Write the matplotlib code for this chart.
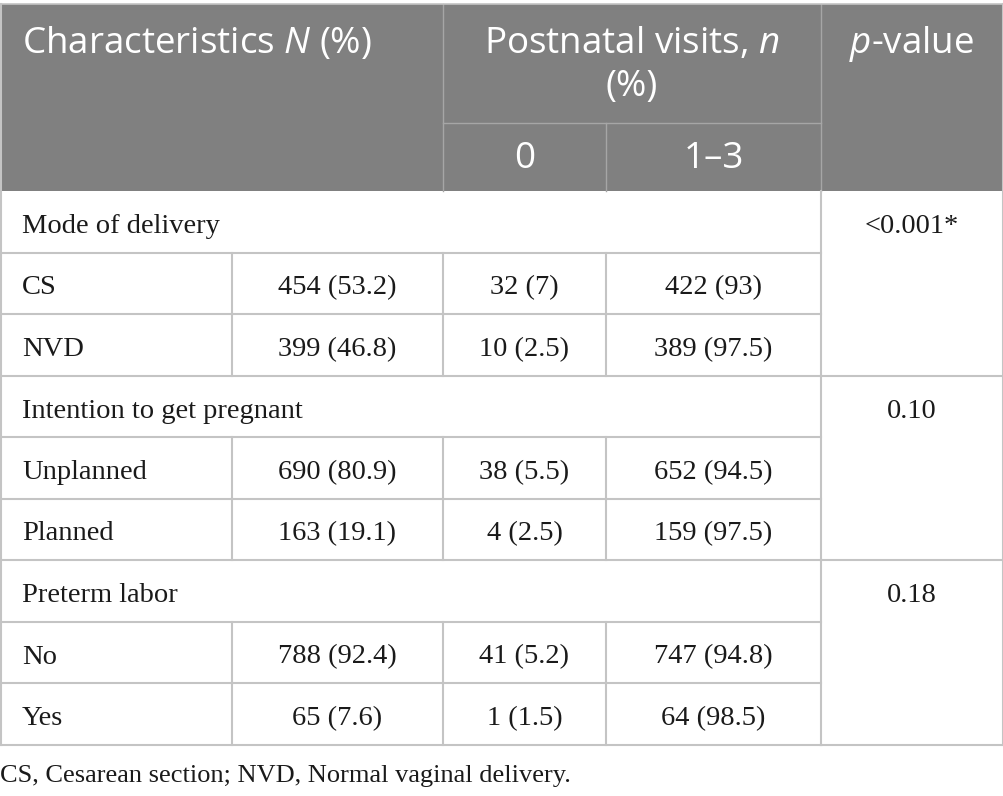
import matplotlib.pyplot as plt
from matplotlib.patches import Rectangle

# table contents
groups = ['Mode of delivery', 'Intention to get pregnant', 'Preterm labor']
p_values = ['<0.001*', '0.10', '0.18']
categories = [['CS', 'NVD'], ['Unplanned', 'Planned'], ['No', 'Yes']]
n_total = [[454, 399], [690, 163], [788, 65]]
pct_total = [[53.2, 46.8], [80.9, 19.1], [92.4, 7.6]]
n_zero = [[32, 10], [38, 4], [41, 1]]
pct_zero = [['7', '2.5'], ['5.5', '2.5'], ['5.2', '1.5']]
n_visits = [[422, 389], [652, 159], [747, 64]]
pct_visits = [['93', '97.5'], ['94.5', '97.5'], ['94.8', '98.5']]
footnote = 'CS, Cesarean section; NVD, Normal vaginal delivery.'

plt.rcParams['mathtext.fontset'] = 'custom'
plt.rcParams['mathtext.it'] = 'Open Sans:italic'
plt.rcParams['mathtext.rm'] = 'Open Sans'

W, H = 1004, 796
HEAD_BG = '#808080'
GRID = '#c4c4c4'
HEAD_GRID = '#a6a6a6'
SANS = ['Open Sans', 'DejaVu Sans']
SERIF = ['Liberation Serif', 'DejaVu Serif']

cols = [1, 232, 443, 606, 821, 1003]
top, head_mid, head_bot = 4, 123, 191
row_h = 61.5

fig = plt.figure(figsize=(W / 100, H / 100), dpi=100)
ax = fig.add_axes([0, 0, 1, 1])
ax.set_xlim(0, W)
ax.set_ylim(H, 0)
ax.axis('off')

# header block
ax.add_patch(Rectangle((cols[0], top), cols[-1] - cols[0], head_bot - top,
                       facecolor=HEAD_BG, edgecolor='none'))
ax.plot([cols[2], cols[2]], [top, head_bot], color=HEAD_GRID, lw=1)
ax.plot([cols[4], cols[4]], [top, head_bot], color=HEAD_GRID, lw=1)
ax.plot([cols[3], cols[3]], [head_mid, head_bot], color=HEAD_GRID, lw=1)
ax.plot([cols[2], cols[4]], [head_mid, head_mid], color=HEAD_GRID, lw=1)
ax.plot([cols[0], cols[-1]], [top, top], color=GRID, lw=1.2)

hs = 26.5
hkw = dict(fontsize=hs, color='white', family=SANS, va='baseline')
ax.text(22, 53, 'Characteristics $\\mathit{N}$ (%)', ha='left', **hkw)
ax.text((cols[2] + cols[4]) / 2, 53, 'Postnatal visits, $\\mathit{n}$', ha='center', **hkw)
ax.text((cols[2] + cols[4]) / 2, 96, '(%)', ha='center', **hkw)
ax.text((cols[2] + cols[3]) / 2, 168, '0', ha='center', **hkw)
ax.text((cols[3] + cols[4]) / 2, 168, '1–3', ha='center', **hkw)
ax.text((cols[4] + cols[5]) / 2, 53, '$\\mathit{p}$-value', ha='center', **hkw)

bs = 20.5
bkw = dict(fontsize=bs, family=SERIF, va='baseline', color='#1a1a1a')
base = 42
y = head_bot
for g, grp in enumerate(groups):
    ax.text(22, y + base, grp, ha='left', **bkw)
    ax.text((cols[4] + cols[5]) / 2, y + base, p_values[g], ha='center', **bkw)
    y += row_h
    ax.plot([cols[0], cols[4]], [y, y], color=GRID, lw=1.5)
    for i, cat in enumerate(categories[g]):
        cells = [f'{n_total[g][i]} ({pct_total[g][i]:.1f})',
                 f'{n_zero[g][i]} ({pct_zero[g][i]})',
                 f'{n_visits[g][i]} ({pct_visits[g][i]})']
        ax.text(22, y + base, cat, ha='left', **bkw)
        for c, txt in enumerate(cells):
            ax.text((cols[c + 1] + cols[c + 2]) / 2, y + base, txt, ha='center', **bkw)
        for c in (1, 2, 3):
            ax.plot([cols[c], cols[c]], [y, y + row_h], color=GRID, lw=1.5)
        y += row_h
        ax.plot([cols[0], cols[4]], [y, y], color=GRID, lw=1.5)
    ax.plot([cols[4], cols[5]], [y, y], color=GRID, lw=1.5)

# outer borders and p-value column divider
ax.plot([cols[0], cols[0]], [top, y], color=GRID, lw=1.5)
ax.plot([cols[5], cols[5]], [top, y], color=GRID, lw=1.5)
ax.plot([cols[4], cols[4]], [head_bot, y], color=GRID, lw=1.5)

ax.text(0, 782, footnote, fontsize=19, family=SERIF, va='baseline', ha='left',
        color='#1a1a1a')

fig.savefig('out.png', dpi=100)
